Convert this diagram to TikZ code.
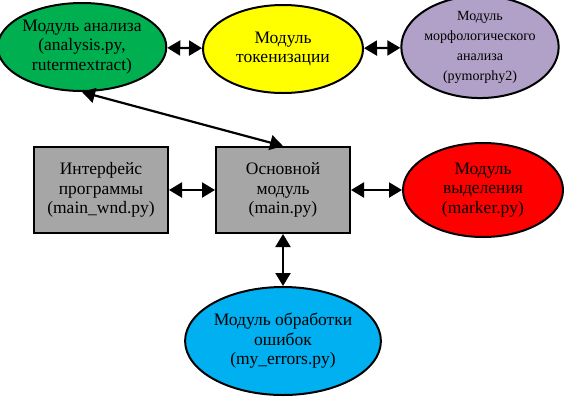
\documentclass[tikz,border=0pt]{standalone}
\usepackage{fontspec}
\setmainfont{Liberation Serif}
\usetikzlibrary{shapes.geometric,arrows.meta}

\definecolor{modgreen}{HTML}{00B050}
\definecolor{modyellow}{HTML}{FFFF00}
\definecolor{modpurple}{HTML}{B1A0C7}
\definecolor{modgray}{HTML}{A6A6A6}
\definecolor{modred}{HTML}{FF0000}
\definecolor{modblue}{HTML}{00B0F0}

\tikzset{
  modell/.style={ellipse, draw, line width=2pt, inner sep=0pt, align=center, font=\fontsize{17.5}{19.5}\selectfont},
  modbox/.style={rectangle, draw, line width=2pt, fill=modgray, inner sep=0pt, align=center, minimum width=134, minimum height=86, font=\fontsize{17.5}{19.5}\selectfont},
  link/.style={line width=2.2pt, {Triangle[width=15pt,length=13pt]}-{Triangle[width=15pt,length=13pt]}}
}

\begin{document}
\begin{tikzpicture}[x=1pt,y=-1pt]
\useasboundingbox (0,0) rectangle (565,400);
% Top row of modules
\node[modell, fill=modgreen, minimum width=160, minimum height=88] (analysis) at (82,47) {Модуль анализа\\(analysis.py,\\rutermextract)};
\node[modell, fill=modyellow, minimum width=160, minimum height=88] (token) at (283,49) {Модуль\\токенизации};
\node[modell, fill=modpurple, minimum width=155, minimum height=88, font=\fontsize{14}{20}\selectfont] (morph) at (480,47) {Модуль\\морфологического\\анализа\\(pymorphy2)};
% Middle row
\node[modbox] (iface) at (101,190) {Интерфейс\\программы\\(main\_wnd.py)};
\node[modbox] (main) at (283,190) {Основной\\модуль\\(main.py)};
\node[modell, fill=modred, minimum width=160, minimum height=94] (marker) at (483,190) {Модуль\\выделения\\(marker.py)};
% Bottom module
\node[modell, fill=modblue, minimum width=186, minimum height=108] (errors) at (283,341) {Модуль обработки\\ошибок\\(my\_errors.py)};
% Connections
\draw[link] (analysis) -- (token);
\draw[link] (token) -- (morph);
\draw[link] (analysis.south) -- (main.north);
\draw[link] (iface) -- (main);
\draw[link] (main) -- (marker);
\draw[link] (main) -- (errors);
\end{tikzpicture}
\end{document}
